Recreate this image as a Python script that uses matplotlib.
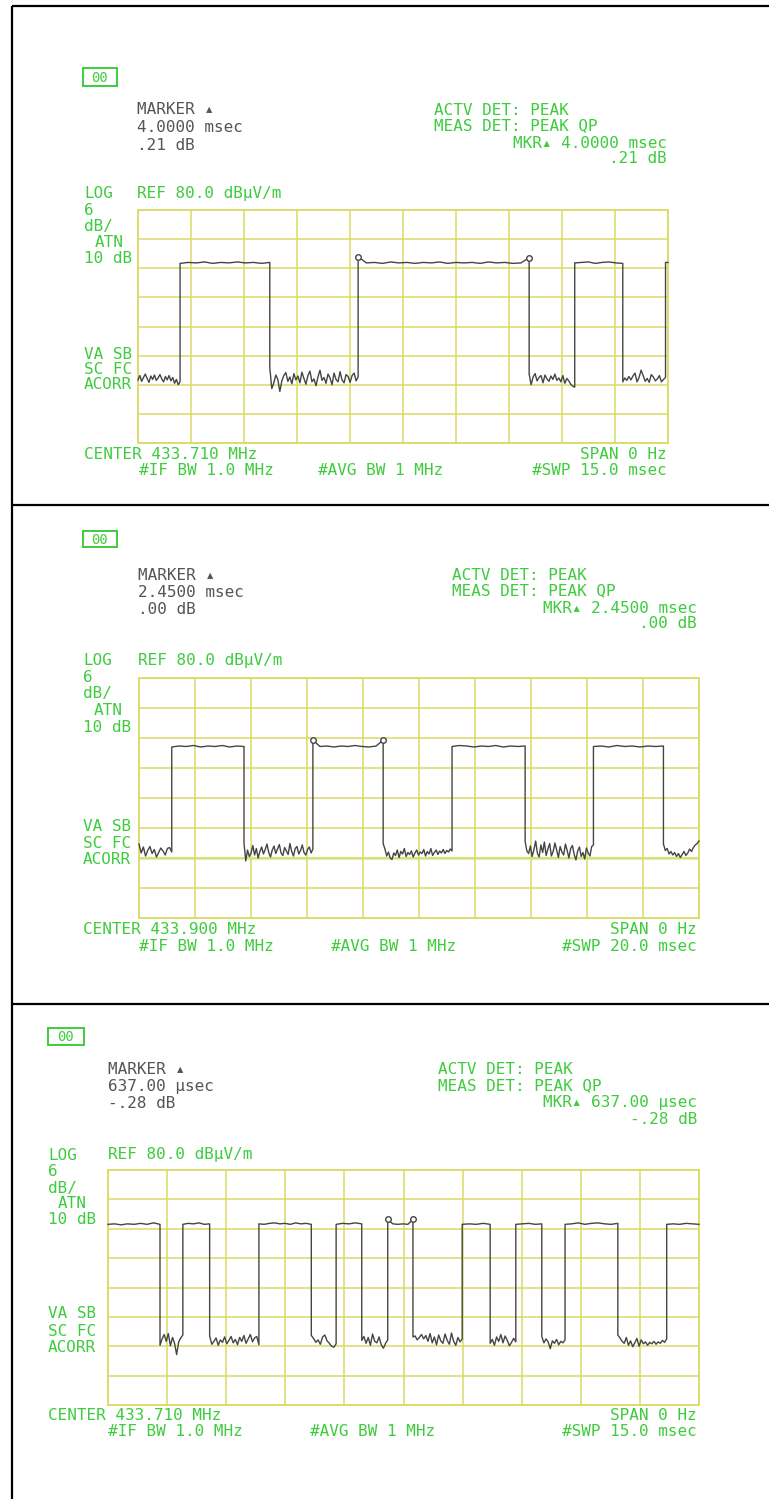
import numpy as np
import matplotlib
matplotlib.use("Agg")
import matplotlib.pyplot as plt
from matplotlib.patches import Rectangle

# ---------------- data ----------------
ref_level = 80.0
db_per_div = 6.0

p1_span_ms = 15.0
p1_edges = [0.0, 1.19, 3.73, 6.23, 11.07, 12.36, 13.72, 14.93, 15.0]
p1_levels = [
    [45.0, 45.9, 44.7, 45.5, 46.2, 45.3, 44.5, 45.8, 45.1, 46.0, 44.9, 45.4, 46.1, 45.2,
     44.6, 45.7, 45.0, 45.9, 44.8, 45.5, 44.3, 45.1, 44.0, 44.6],
    [69.0, 69.2, 69.1, 69.3, 69.0, 69.2, 69.1, 69.3, 69.1, 69.2, 69.0, 69.2],
    [47.5, 43.2, 44.4, 46.0, 45.1, 42.6, 44.8, 45.9, 46.5, 44.7, 45.6, 44.2, 46.3, 45.0,
     45.8, 44.4, 46.6, 45.3, 44.1, 45.9, 46.8, 44.6, 45.2, 43.8, 45.6, 47.0, 44.9, 45.5,
     44.3, 46.2, 45.4, 44.0, 46.4, 45.1, 44.6, 46.7, 45.0, 44.4, 46.1, 45.7, 44.5, 45.9,
     46.4, 44.8, 45.6],
    [70.4, 69.1, 69.2, 69.0, 69.3, 69.1, 69.2, 69.0, 69.2, 69.1, 69.3, 69.0, 69.2, 69.1,
     69.2, 69.0, 69.3, 69.1, 69.2, 69.0, 69.1, 70.2],
    [46.2, 44.0, 45.6, 46.3, 44.8, 45.5, 45.9, 44.4, 46.0, 45.2, 44.7, 45.8, 45.1, 46.2,
     44.9, 45.4, 44.6, 45.9, 44.3, 45.3, 44.8, 44.1, 43.7, 43.5],
    [69.1, 69.2, 69.3, 69.0, 69.2, 69.3, 69.1, 69.0],
    [44.6, 45.4, 44.9, 45.7, 45.0, 45.8, 46.4, 44.6, 45.5, 47.0, 45.9, 44.7, 45.3, 44.5,
     46.1, 45.6, 44.8, 45.2, 45.9, 44.6, 45.1, 45.5],
    [69.2, 69.2],
]
p1_marker_t = [6.23, 11.07]
p1_marker_db = [70.4, 70.2]

p2_span_ms = 20.0
p2_edges = [0.0, 1.17, 3.75, 6.21, 8.72, 11.18, 13.79, 16.23, 18.73, 20.0]
p2_levels = [
    [46.8, 45.0, 46.2, 44.4, 45.5, 46.3, 44.9, 45.7, 44.2, 45.1, 46.0, 45.4, 44.6, 45.9,
     46.1, 45.2],
    [66.2, 66.4, 66.3, 66.5, 66.2, 66.4, 66.3, 66.5, 66.2, 66.4, 66.3],
    [47.0, 43.4, 45.6, 44.3, 45.0, 46.5, 44.6, 45.9, 44.0, 45.3, 46.2, 44.8, 45.7, 46.8,
     45.1, 44.2, 45.6, 46.4, 44.9, 45.8, 46.7, 45.0, 44.5, 46.1, 45.4, 44.7, 46.9, 45.3,
     44.4, 45.9, 46.3, 44.8, 45.5, 46.6, 45.1, 44.6, 45.7, 46.2, 45.0, 45.8],
    [67.6, 66.3, 66.4, 66.2, 66.4, 66.3, 66.5, 66.3, 66.2, 66.4, 67.6],
    [46.9, 45.8, 44.4, 45.2, 44.0, 43.7, 45.0, 44.5, 45.6, 44.1, 45.3, 44.8, 45.9, 44.3,
     45.1, 44.7, 45.4, 44.2, 45.0, 45.6, 44.6, 45.2, 44.9, 45.7, 44.4, 45.3, 44.8, 45.9,
     44.5, 45.1, 45.6, 44.7, 45.4, 45.0, 45.7, 44.9, 45.5, 45.2, 45.8, 45.4],
    [66.3, 66.5, 66.4, 66.2, 66.4, 66.3, 66.5, 66.2, 66.4, 66.3, 66.4],
    [47.3, 45.4, 44.9, 46.4, 44.3, 45.6, 47.4, 45.0, 44.2, 46.6, 45.1, 47.2, 44.5, 45.8,
     46.9, 44.4, 45.3, 47.0, 45.6, 44.1, 46.3, 45.2, 44.6, 46.8, 45.5, 44.0, 45.9, 46.5,
     44.7, 43.6, 45.4, 46.2, 44.3, 45.1, 43.8, 46.0, 45.0, 44.4, 46.3, 46.6],
    [66.3, 66.4, 66.2, 66.5, 66.3, 66.4, 66.2, 66.4, 66.3, 66.4],
    [46.8, 45.5, 45.9, 44.8, 45.3, 44.6, 45.1, 44.3, 44.9, 44.1, 44.7, 45.3, 44.5, 45.0,
     45.8, 45.3, 46.1, 46.6, 46.9, 47.4],
]
p2_marker_t = [6.21, 8.72]
p2_marker_db = [67.6, 67.6]
p2_display_line_db = 44.0

p3_span_ms = 15.0
p3_edges = [0.0, 1.32, 1.90, 2.58, 3.83, 5.16, 5.79, 6.44, 7.10, 7.74, 8.99, 9.70,
            10.35, 11.01, 11.60, 12.94, 14.18, 15.0]
p3_levels = [
    [68.9, 69.0, 68.8, 69.0, 68.9, 69.1, 68.9, 69.2, 68.9],
    [44.2, 45.5, 46.4, 45.0, 46.6, 44.1, 45.8, 44.6, 42.3, 44.9, 45.7, 46.3],
    [68.9, 69.1, 69.0, 69.2, 68.9, 69.0],
    [46.1, 44.4, 45.0, 45.7, 44.2, 45.3, 44.8, 45.9, 44.5, 45.2, 46.0, 44.7, 45.4, 44.3,
     45.8, 45.0, 46.2, 44.6, 45.5, 46.4, 44.9, 45.7, 46.0, 44.3],
    [69.0, 68.9, 69.1, 69.2, 69.0, 69.1, 68.9, 69.2, 69.0, 69.1, 68.9],
    [46.2, 45.6, 44.8, 45.3, 44.4, 45.9, 46.3, 45.1, 44.6, 44.0, 43.8, 44.5],
    [68.9, 69.1, 69.0, 69.2, 69.0],
    [45.2, 46.0, 44.6, 45.8, 44.2, 46.5, 45.0, 44.7, 45.9, 44.3, 43.6, 44.6, 45.3],
    [69.9, 69.0, 68.9, 69.0, 68.9, 69.9],
    [45.9, 46.1, 45.3, 45.8, 46.4, 45.5, 46.2, 45.0, 46.6, 44.7, 45.9, 44.3, 46.3, 45.1,
     44.6, 46.5, 45.2, 44.4, 46.7, 45.0, 44.2, 45.8, 44.9, 45.5],
    [68.9, 69.0, 68.9, 69.1, 68.9],
    [44.6, 45.4, 44.2, 45.9, 45.0, 46.4, 44.7, 46.1, 45.2, 44.1, 44.8, 45.6, 44.9],
    [68.9, 69.0, 69.1, 68.9, 69.0],
    [46.0, 44.7, 45.5, 44.9, 43.5, 45.1, 44.6, 45.4, 44.3, 45.0, 44.7, 45.3],
    [68.9, 69.0, 69.2, 68.9, 69.1, 69.2, 69.0, 68.9, 69.1],
    [46.3, 45.7, 45.0, 44.6, 45.8, 44.2, 45.1, 43.9, 44.7, 45.6, 44.0, 45.3, 44.5, 44.9,
     44.2, 44.8, 44.5, 45.0, 44.4, 44.9, 44.6, 45.2, 44.8, 45.5],
    [68.9, 69.0, 68.9, 69.1, 69.0, 68.9],
]
p3_marker_t = [7.10, 7.74]
p3_marker_db = [69.9, 69.9]

# texts per panel
p1_marker_txt = ["MARKER \u25b4", "4.0000 msec", ".21 dB"]
p1_det_txt = ["ACTV DET: PEAK", "MEAS DET: PEAK QP"]
p1_mkr_txt = ["MKR\u25b4 4.0000 msec", ".21 dB"]
p1_bottom_txt = ["CENTER 433.710 MHz", "SPAN 0 Hz", "#IF BW 1.0 MHz", "#AVG BW 1 MHz", "#SWP 15.0 msec"]

p2_marker_txt = ["MARKER \u25b4", "2.4500 msec", ".00 dB"]
p2_det_txt = ["ACTV DET: PEAK", "MEAS DET: PEAK QP"]
p2_mkr_txt = ["MKR\u25b4 2.4500 msec", ".00 dB"]
p2_bottom_txt = ["CENTER 433.900 MHz", "SPAN 0 Hz", "#IF BW 1.0 MHz", "#AVG BW 1 MHz", "#SWP 20.0 msec"]

p3_marker_txt = ["MARKER \u25b4", "637.00 \u03bcsec", "-.28 dB"]
p3_det_txt = ["ACTV DET: PEAK", "MEAS DET: PEAK QP"]
p3_mkr_txt = ["MKR\u25b4 637.00 \u03bcsec", "-.28 dB"]
p3_bottom_txt = ["CENTER 433.710 MHz", "SPAN 0 Hz", "#IF BW 1.0 MHz", "#AVG BW 1 MHz", "#SWP 15.0 msec"]

ref_txt = "REF 80.0 dB\u03bcV/m"
left_txt = ["6", "dB/", "ATN", "10 dB"]
side_txt = ["VA SB", "SC FC", "ACORR"]

# ---------------- style ----------------
W, H = 769, 1499
GREEN = "#3dcc3d"
GRAY = "#555555"
GRID = "#dada66"
TRACE = "#454545"
FONT = ["DejaVu Sans Mono", "DejaVu Sans"]
FS = 11.5

fig = plt.figure(figsize=(W / 100, H / 100), dpi=100)
bg = fig.add_axes([0, 0, 1, 1])
bg.set_xlim(0, W)
bg.set_ylim(H, 0)
bg.axis("off")

# frame lines
bg.plot([12, 12], [6, H], color="black", lw=1.6, solid_capstyle="butt")
bg.plot([12, W], [6, 6], color="black", lw=1.6, solid_capstyle="butt")
bg.plot([12, W], [505, 505], color="black", lw=1.6, solid_capstyle="butt")
bg.plot([12, W], [1004, 1004], color="black", lw=1.6, solid_capstyle="butt")


def txt(x, y, s, color=GREEN, ha="left"):
    bg.text(x, y, s, color=color, ha=ha, va="center", fontsize=FS, family=FONT)


def build(edges, levels):
    ts, vs = [], []
    for i, vals in enumerate(levels):
        t = np.linspace(edges[i], edges[i + 1], len(vals))
        ts.append(t)
        vs.append(np.asarray(vals))
    return np.concatenate(ts), np.concatenate(vs)


def panel(box, grid_px, span, edges, levels, mk_t, mk_db, display_line=None):
    bx0, by0, bx1, by1 = box
    bg.add_patch(Rectangle((bx0, by0), bx1 - bx0, by1 - by0, fill=False,
                           edgecolor=GREEN, lw=1.4))
    bg.text((bx0 + bx1) / 2, (by0 + by1) / 2 + 0.5, "00", color=GREEN, ha="center",
            va="center", fontsize=FS - 1.5, family=FONT)
    l, t, r, b = grid_px
    ax = fig.add_axes([l / W, 1 - b / H, (r - l) / W, (b - t) / H])
    ax.set_xlim(0, span)
    ax.set_ylim(ref_level - 8 * db_per_div, ref_level)
    ax.set_xticks(np.linspace(0, span, 11))
    ax.set_yticks(np.linspace(ref_level - 8 * db_per_div, ref_level, 9))
    ax.tick_params(length=0, labelbottom=False, labelleft=False)
    ax.grid(True, color=GRID, lw=1.1)
    for s in ax.spines.values():
        s.set_color(GRID)
        s.set_linewidth(1.3)
    ax.set_facecolor("none")
    if display_line is not None:
        ax.axhline(display_line, color="#d6f3b4", lw=2.2, zorder=1.5)
    tt, vv = build(edges, levels)
    ax.plot(tt, vv, color=TRACE, lw=1.0, zorder=3, clip_on=False)
    ax.plot(mk_t, mk_db, "o", ms=4, mfc="white", mec=TRACE, mew=1.0, zorder=4,
            clip_on=False)
    return ax


# ---------- panel 1 ----------
panel((83, 68, 117, 86), (138, 210, 668, 443), p1_span_ms, p1_edges, p1_levels,
      p1_marker_t, p1_marker_db)
for s, y in zip(p1_marker_txt, [109, 127, 145]):
    txt(137, y, s, GRAY)
for s, y in zip(p1_det_txt, [110, 126]):
    txt(434, y, s)
for s, y in zip(p1_mkr_txt, [143, 158]):
    txt(667, y, s, ha="right")
txt(84, 193, "LOG"); txt(137, 193, ref_txt)
for s, x, y in zip(left_txt, [84, 84, 95, 84], [210, 226, 242, 258]):
    txt(x, y, s)
for s, y in zip(side_txt, [354, 369, 384]):
    txt(84, y, s)
txt(84, 454, p1_bottom_txt[0]); txt(667, 454, p1_bottom_txt[1], ha="right")
txt(139, 470, p1_bottom_txt[2]); txt(318, 470, p1_bottom_txt[3])
txt(667, 470, p1_bottom_txt[4], ha="right")

# ---------- panel 2 ----------
panel((83, 531, 117, 547), (139, 678, 699, 918), p2_span_ms, p2_edges, p2_levels,
      p2_marker_t, p2_marker_db, display_line=p2_display_line_db)
for s, y in zip(p2_marker_txt, [575, 592, 609]):
    txt(138, y, s, GRAY)
for s, y in zip(p2_det_txt, [575, 591]):
    txt(452, y, s)
for s, y in zip(p2_mkr_txt, [608, 623]):
    txt(697, y, s, ha="right")
txt(83, 660, "LOG"); txt(138, 660, ref_txt)
for s, x, y in zip(left_txt, [83, 83, 94, 83], [677, 693, 710, 727]):
    txt(x, y, s)
for s, y in zip(side_txt, [826, 843, 859]):
    txt(83, y, s)
txt(83, 929, p2_bottom_txt[0]); txt(697, 929, p2_bottom_txt[1], ha="right")
txt(139, 946, p2_bottom_txt[2]); txt(331, 946, p2_bottom_txt[3])
txt(697, 946, p2_bottom_txt[4], ha="right")

# ---------- panel 3 ----------
panel((48, 1028, 84, 1045), (108, 1170, 699, 1405), p3_span_ms, p3_edges, p3_levels,
      p3_marker_t, p3_marker_db)
for s, y in zip(p3_marker_txt, [1070, 1087, 1104]):
    txt(108, y, s, GRAY)
for s, y in zip(p3_det_txt, [1070, 1086]):
    txt(438, y, s)
for s, y in zip(p3_mkr_txt, [1103, 1119]):
    txt(697, y, s, ha="right")
txt(48, 1155, "LOG"); txt(108, 1155, ref_txt)
for s, x, y in zip(left_txt, [48, 48, 58, 48], [1172, 1188, 1203, 1220]):
    txt(x, y, s)
for s, y in zip(side_txt, [1314, 1331, 1347]):
    txt(48, y, s)
txt(48, 1415, p3_bottom_txt[0]); txt(697, 1415, p3_bottom_txt[1], ha="right")
txt(108, 1432, p3_bottom_txt[2]); txt(310, 1432, p3_bottom_txt[3])
txt(697, 1432, p3_bottom_txt[4], ha="right")

fig.savefig("out.png", dpi=100, facecolor="white")
